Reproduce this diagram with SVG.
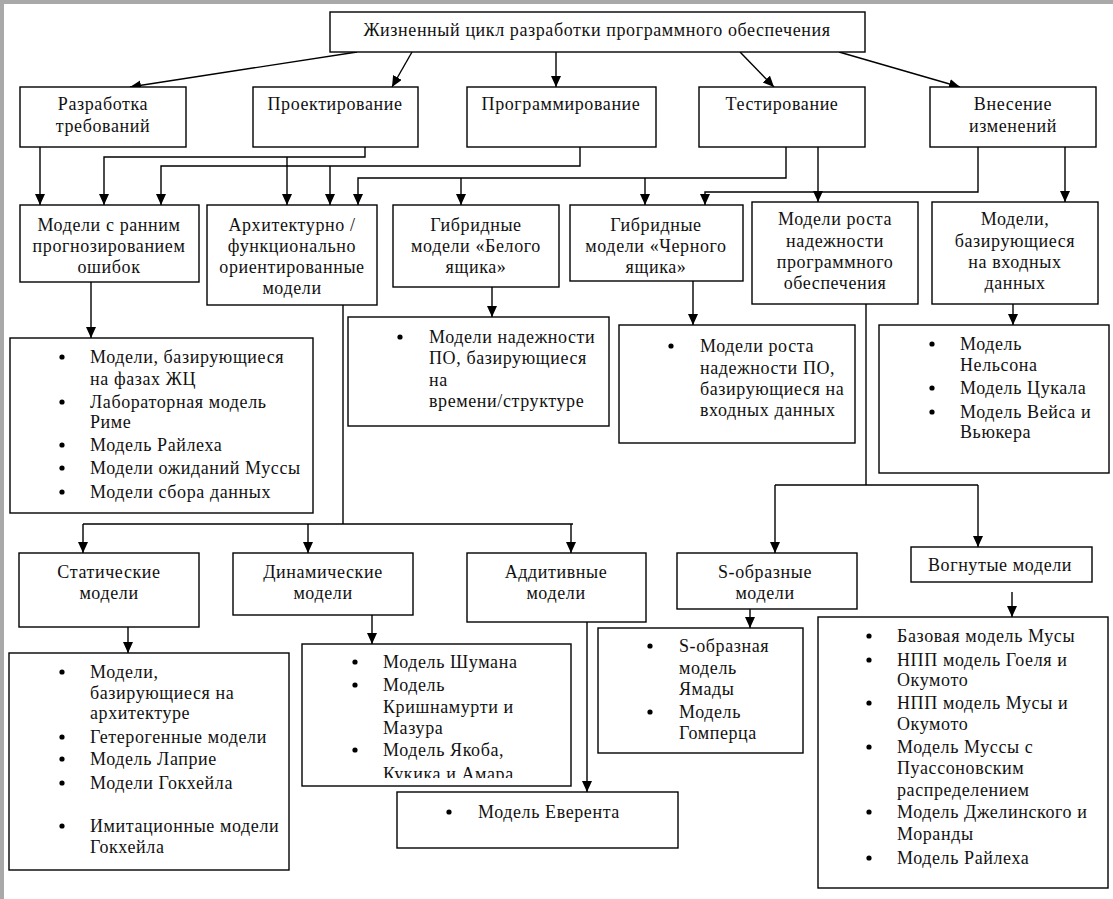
<svg xmlns="http://www.w3.org/2000/svg" width="1113" height="899" viewBox="0 0 1113 899">
<style>
.b{fill:#fff;stroke:#000;stroke-width:1.4}
.t{font-family:"Liberation Serif","Times New Roman",serif;font-size:18px;fill:#111;letter-spacing:0.6px}
.c{text-anchor:middle}
.ln{fill:none;stroke:#000;stroke-width:1.4}
.bl{fill:#000}
</style>
<defs>
<marker id="ah" markerWidth="12" markerHeight="12" refX="11" refY="5" orient="auto" markerUnits="userSpaceOnUse"><path d="M0,0 L11,5 L0,10 z" fill="#000"/></marker>
<clipPath id="dynclip"><rect x="302" y="644" width="269" height="134"/></clipPath>
</defs>
<rect x="0" y="0" width="1113" height="899" fill="#fff"/>
<rect x="0" y="0" width="1113" height="4" fill="#a9a9a9"/>
<rect x="0" y="0" width="4" height="899" fill="#a9a9a9"/>

<g id="connectors">
<path class="ln" d="M357,52 L130,87" marker-end="url(#ah)"/>
<path class="ln" d="M412,52 L392,87" marker-end="url(#ah)"/>
<path class="ln" d="M556,52 L556,87" marker-end="url(#ah)"/>
<path class="ln" d="M740,52 L774,87" marker-end="url(#ah)"/>
<path class="ln" d="M839,52 L960,87" marker-end="url(#ah)"/>

<path class="ln" d="M40,147 L40,205" marker-end="url(#ah)"/>
<path class="ln" d="M365,147 L365,157 L104,157 L104,205" marker-end="url(#ah)"/>
<path class="ln" d="M287,157 L287,205" marker-end="url(#ah)"/>
<path class="ln" d="M580,147 L580,166 L161,166 L161,205" marker-end="url(#ah)"/>
<path class="ln" d="M330,166 L330,205" marker-end="url(#ah)"/>
<path class="ln" d="M786,147 L786,178 L358,178 L358,205" marker-end="url(#ah)"/>
<path class="ln" d="M461,178 L461,205" marker-end="url(#ah)"/>
<path class="ln" d="M645,178 L645,205" marker-end="url(#ah)"/>
<path class="ln" d="M818,147 L818,202" marker-end="url(#ah)"/>
<path class="ln" d="M978,147 L978,192 L705,192 L705,205" marker-end="url(#ah)"/>
<path class="ln" d="M1065,147 L1065,202" marker-end="url(#ah)"/>

<path class="ln" d="M91,282 L91,338" marker-end="url(#ah)"/>
<path class="ln" d="M492,287 L492,317" marker-end="url(#ah)"/>
<path class="ln" d="M693,281 L693,325" marker-end="url(#ah)"/>
<path class="ln" d="M1013,304 L1013,325" marker-end="url(#ah)"/>

<path class="ln" d="M343,305 L343,524"/>
<path class="ln" d="M83,524 L573,524"/>
<path class="ln" d="M83,524 L83,553" marker-end="url(#ah)"/>
<path class="ln" d="M308,524 L308,553" marker-end="url(#ah)"/>
<path class="ln" d="M571,524 L571,553" marker-end="url(#ah)"/>

<path class="ln" d="M866,304 L866,485"/>
<path class="ln" d="M775,485 L978,485"/>
<path class="ln" d="M775,485 L775,553" marker-end="url(#ah)"/>
<path class="ln" d="M978,485 L978,547" marker-end="url(#ah)"/>

<path class="ln" d="M128,627 L128,653" marker-end="url(#ah)"/>
<path class="ln" d="M372,615 L372,644" marker-end="url(#ah)"/>
<path class="ln" d="M587,622 L587,792" marker-end="url(#ah)"/>
<path class="ln" d="M750,609 L750,628" marker-end="url(#ah)"/>
<path class="ln" d="M1012,592 L1012,617" marker-end="url(#ah)"/>
</g>

<g id="n-root"><rect class="b" x="330" y="12" width="535" height="40"/>
<text class="t c" x="597" y="36">Жизненный цикл разработки программного обеспечения</text></g>

<g id="n-req"><rect class="b" x="20" y="87" width="166" height="60"/>
<text class="t c" x="103" y="110">Разработка</text><text class="t c" x="103" y="132">требований</text></g>
<g id="n-design"><rect class="b" x="253" y="87" width="165" height="60"/>
<text class="t c" x="335" y="110">Проектирование</text></g>
<g id="n-prog"><rect class="b" x="467" y="87" width="189" height="60"/>
<text class="t c" x="561" y="110">Программирование</text></g>
<g id="n-test"><rect class="b" x="699" y="87" width="166" height="60"/>
<text class="t c" x="782" y="110">Тестирование</text></g>
<g id="n-change"><rect class="b" x="930" y="87" width="166" height="60"/>
<text class="t c" x="1013" y="110">Внесение</text><text class="t c" x="1013" y="132">изменений</text></g>

<g id="n-early"><rect class="b" x="20" y="205" width="179" height="77"/>
<text class="t c" x="109" y="231">Модели с ранним</text><text class="t c" x="109" y="252">прогнозированием</text><text class="t c" x="109" y="273">ошибок</text></g>
<g id="n-arch"><rect class="b" x="207" y="205" width="170" height="100"/>
<text class="t c" x="292" y="231">Архитектурно /</text><text class="t c" x="292" y="252">функционально</text><text class="t c" x="292" y="273">ориентированные</text><text class="t c" x="292" y="294">модели</text></g>
<g id="n-white"><rect class="b" x="393" y="205" width="166" height="82"/>
<text class="t c" x="476" y="231">Гибридные</text><text class="t c" x="476" y="252">модели «Белого</text><text class="t c" x="476" y="273">ящика»</text></g>
<g id="n-black"><rect class="b" x="570" y="205" width="173" height="76"/>
<text class="t c" x="656" y="231">Гибридные</text><text class="t c" x="656" y="252">модели «Черного</text><text class="t c" x="656" y="273">ящика»</text></g>
<g id="n-growth"><rect class="b" x="752" y="202" width="166" height="102"/>
<text class="t c" x="835" y="225">Модели роста</text><text class="t c" x="835" y="247">надежности</text><text class="t c" x="835" y="268">программного</text><text class="t c" x="835" y="289">обеспечения</text></g>
<g id="n-input"><rect class="b" x="932" y="202" width="166" height="102"/>
<text class="t c" x="1015" y="225">Модели,</text><text class="t c" x="1015" y="247">базирующиеся</text><text class="t c" x="1015" y="268">на входных</text><text class="t c" x="1015" y="289">данных</text></g>

<g id="l-early"><rect class="b" x="10" y="338" width="303" height="175"/>
<circle class="bl" cx="62" cy="357" r="2.6"/><text class="t" x="90" y="363">Модели, базирующиеся</text><text class="t" x="90" y="385">на фазах ЖЦ</text>
<circle class="bl" cx="62" cy="402" r="2.6"/><text class="t" x="90" y="408">Лабораторная модель</text><text class="t" x="90" y="428">Риме</text>
<circle class="bl" cx="62" cy="445" r="2.6"/><text class="t" x="90" y="451">Модель Райлеха</text>
<circle class="bl" cx="62" cy="468" r="2.6"/><text class="t" x="90" y="474">Модели ожиданий Муссы</text>
<circle class="bl" cx="62" cy="492" r="2.6"/><text class="t" x="90" y="498">Модели сбора данных</text></g>

<g id="l-white"><rect class="b" x="348" y="317" width="261" height="109"/>
<circle class="bl" cx="400" cy="337" r="2.6"/><text class="t" x="429" y="343">Модели надежности</text><text class="t" x="429" y="364">ПО, базирующиеся</text><text class="t" x="429" y="386">на</text><text class="t" x="429" y="407">времени/структуре</text></g>

<g id="l-black"><rect class="b" x="619" y="325" width="236" height="118"/>
<circle class="bl" cx="671" cy="346" r="2.6"/><text class="t" x="700" y="352">Модели роста</text><text class="t" x="700" y="374">надежности ПО,</text><text class="t" x="700" y="395">базирующиеся на</text><text class="t" x="700" y="416">входных данных</text></g>

<g id="l-input"><rect class="b" x="879" y="325" width="230" height="148"/>
<circle class="bl" cx="932" cy="344" r="2.6"/><text class="t" x="960" y="350">Модель</text><text class="t" x="960" y="371">Нельсона</text>
<circle class="bl" cx="932" cy="388" r="2.6"/><text class="t" x="960" y="394">Модель Цукала</text>
<circle class="bl" cx="932" cy="412" r="2.6"/><text class="t" x="960" y="418">Модель Вейса и</text><text class="t" x="960" y="438">Вьюкера</text></g>

<g id="n-static"><rect class="b" x="19" y="553" width="180" height="74"/>
<text class="t c" x="109" y="578">Статические</text><text class="t c" x="109" y="599">модели</text></g>
<g id="n-dynamic"><rect class="b" x="233" y="553" width="180" height="62"/>
<text class="t c" x="323" y="578">Динамические</text><text class="t c" x="323" y="599">модели</text></g>
<g id="n-additive"><rect class="b" x="467" y="553" width="179" height="69"/>
<text class="t c" x="556" y="578">Аддитивные</text><text class="t c" x="556" y="599">модели</text></g>
<g id="n-sshape"><rect class="b" x="677" y="553" width="180" height="56"/>
<text class="t c" x="765" y="578">S-образные</text><text class="t c" x="765" y="599">модели</text></g>
<g id="n-concave"><rect class="b" x="911" y="547" width="181" height="35"/>
<text class="t c" x="1000" y="571">Вогнутые модели</text></g>

<g id="l-static"><rect class="b" x="9" y="653" width="280" height="217"/>
<circle class="bl" cx="62" cy="672" r="2.6"/><text class="t" x="90" y="678">Модели,</text><text class="t" x="90" y="699">базирующиеся на</text><text class="t" x="90" y="719">архитектуре</text>
<circle class="bl" cx="62" cy="737" r="2.6"/><text class="t" x="90" y="743">Гетерогенные модели</text>
<circle class="bl" cx="62" cy="759" r="2.6"/><text class="t" x="90" y="765">Модель Лаприе</text>
<circle class="bl" cx="62" cy="783" r="2.6"/><text class="t" x="90" y="789">Модели Гокхейла</text>
<circle class="bl" cx="62" cy="826" r="2.6"/><text class="t" x="90" y="832">Имитационные модели</text><text class="t" x="90" y="853">Гокхейла</text></g>

<g id="l-dynamic"><rect class="b" x="302" y="644" width="269" height="142"/>
<g clip-path="url(#dynclip)">
<circle class="bl" cx="355" cy="662" r="2.6"/><text class="t" x="383" y="668">Модель Шумана</text>
<circle class="bl" cx="355" cy="685" r="2.6"/><text class="t" x="383" y="691">Модель</text><text class="t" x="383" y="713">Кришнамурти и</text><text class="t" x="383" y="734">Мазура</text>
<circle class="bl" cx="355" cy="750" r="2.6"/><text class="t" x="383" y="756">Модель Якоба,</text><text class="t" x="383" y="780">Кукика и Амара</text></g></g>

<g id="l-additive"><rect class="b" x="397" y="792" width="281" height="56"/>
<circle class="bl" cx="449" cy="812" r="2.6"/><text class="t" x="478" y="818">Модель Еверента</text></g>

<g id="l-sshape"><rect class="b" x="598" y="628" width="205" height="125"/>
<circle class="bl" cx="650" cy="646" r="2.6"/><text class="t" x="679" y="652">S-образная</text><text class="t" x="679" y="674">модель</text><text class="t" x="679" y="695">Ямады</text>
<circle class="bl" cx="650" cy="712" r="2.6"/><text class="t" x="679" y="718">Модель</text><text class="t" x="679" y="739">Гомперца</text></g>

<g id="l-concave"><rect class="b" x="818" y="617" width="290" height="271"/>
<circle class="bl" cx="869" cy="636" r="2.6"/><text class="t" x="897" y="642">Базовая модель Мусы</text>
<circle class="bl" cx="869" cy="660" r="2.6"/><text class="t" x="897" y="666">НПП модель Гоеля и</text><text class="t" x="897" y="686">Окумото</text>
<circle class="bl" cx="869" cy="703" r="2.6"/><text class="t" x="897" y="709">НПП модель Мусы и</text><text class="t" x="897" y="730">Окумото</text>
<circle class="bl" cx="869" cy="747" r="2.6"/><text class="t" x="897" y="753">Модель Муссы с</text><text class="t" x="897" y="774">Пуассоновским</text><text class="t" x="897" y="796">распределением</text>
<circle class="bl" cx="869" cy="812" r="2.6"/><text class="t" x="897" y="818">Модель Джелинского и</text><text class="t" x="897" y="840">Моранды</text>
<circle class="bl" cx="869" cy="858" r="2.6"/><text class="t" x="897" y="864">Модель Райлеха</text></g>
</svg>
